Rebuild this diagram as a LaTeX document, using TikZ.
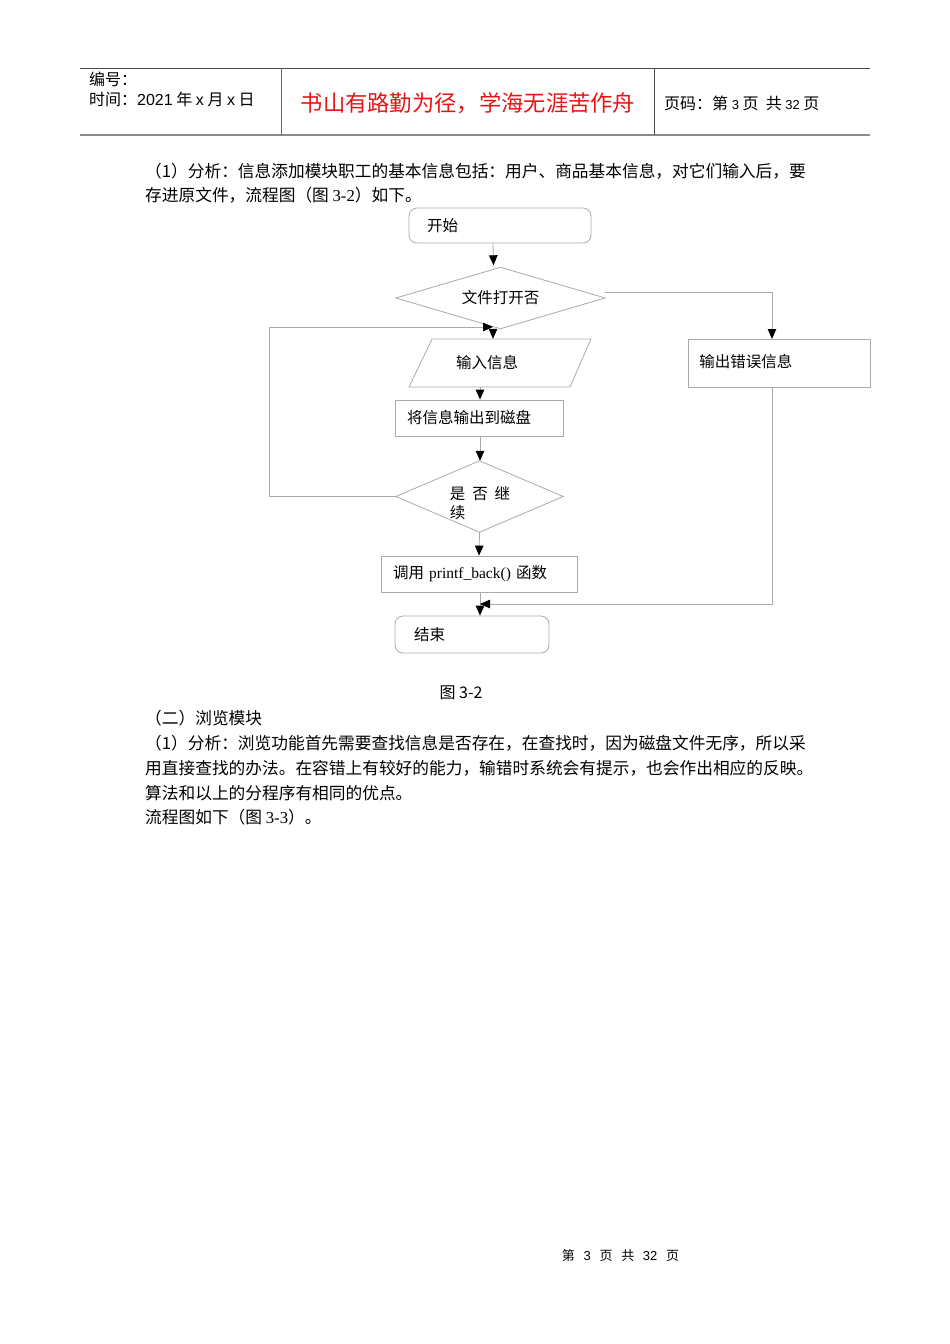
\documentclass[tikz,border=0pt]{standalone}
\usepackage{fontspec}
\setmainfont{Liberation Serif}
\newfontfamily\cjk{Noto Sans CJK SC}
\newfontfamily\hsans{Liberation Sans}
\usetikzlibrary{arrows.meta}
\definecolor{linegray}{RGB}{170,170,170}
\definecolor{titlered}{RGB}{230,20,20}
\begin{document}
\begin{tikzpicture}[x=1pt,y=-1pt,
  txt/.style={anchor=west,inner sep=0pt,font=\fontsize{16.7}{20}\selectfont\cjk},
  hdr/.style={anchor=west,inner sep=0pt,font=\fontsize{16}{18}\selectfont\cjk},
  box/.style={draw=linegray,line width=0.8pt,font=\fontsize{15.5}{19}\selectfont\cjk,inner sep=0pt},
  plain/.style={inner sep=0pt,font=\fontsize{15.5}{19}\selectfont\cjk},
  arr/.style={draw=linegray,line width=0.8pt,-{Triangle[black,length=10pt,width=8.5pt]}},
  conn/.style={draw=linegray,line width=0.8pt}]
\useasboundingbox[fill=white] (0,0) rectangle (950,1344);
% header
\draw[draw=black!70,line width=1pt] (80,68) -- (870,68);
\draw[draw=black!45,line width=2pt] (80,135) -- (870,135);
\draw[draw=black!60,line width=1pt] (281,68) -- (281,135);
\draw[draw=black!70,line width=1pt] (654,68) -- (654,135);
\node[hdr] (h1) at (89,79) {编号：};
\node[hdr] (h2) at (89,99) {时间：{\hsans 2021} 年 {\hsans x} 月 {\hsans x} 日};
\node[anchor=center,inner sep=0pt,text=titlered,font=\fontsize{22.3}{24}\selectfont\cjk] (title) at (468,103) {书山有路勤为径，学海无涯苦作舟};
\node[hdr] (h3) at (664,103) {页码：第 {\hsans\fontsize{13}{14}\selectfont 3} 页\ \ 共 {\hsans\fontsize{13}{14}\selectfont 32} 页};
% body text
\node[txt] (p1) at (145,171) {（1）分析：信息添加模块职工的基本信息包括：用户、商品基本信息，对它们输入后，要};
\node[txt] (p2) at (145,195) {存进原文件，流程图（图 {\rmfamily 3-2}）如下。};
% flowchart
\node[box,rounded corners=8pt,minimum width=182pt,minimum height=35pt,text width=146pt,align=left] (start) at (500,225.5) {开始};
\node[plain,minimum width=209pt,minimum height=61pt] (open) at (500.5,298) {文件打开否};
\draw[conn] (open.north) -- (open.east) -- (open.south) -- (open.west) -- cycle;
\node[plain,minimum width=160pt,minimum height=48pt] (inp) at (487,363) {输入信息};
\draw[conn] (432,339) -- (591,339) -- (570,387) -- (409,387) -- cycle;
\node[box,minimum width=168pt,minimum height=36pt,text width=144pt,align=left] (save) at (479,418) {将信息输出到磁盘};
\node[plain,minimum width=167pt,minimum height=71pt] (cont) at (479.5,496.5) {};
\draw[conn] (cont.north) -- (cont.east) -- (cont.south) -- (cont.west) -- cycle;
\node[plain,align=left] (conttxt) at (480,503) {是\ \ 否\ \ 继\\续\phantom{\ \ 否\ \ 继}};
\node[box,minimum width=196pt,minimum height=36pt,text width=172pt,align=left] (call) at (479,574) {调用 {\rmfamily printf\_back()} 函数};
\node[box,rounded corners=8pt,minimum width=154pt,minimum height=37pt,text width=116pt,align=left] (end) at (472,634.5) {结束};
\node[box,minimum width=182pt,minimum height=48pt,text width=160pt,align=left,anchor=north west] (err) at (688,339) {\raisebox{0pt}[8pt][0pt]{输出错误信息}};
% connectors
\coordinate (loopc) at (269,327);
\coordinate (merge) at (493,327);
\coordinate (join) at (480,604);
\coordinate (rt) at (772,292);
\draw[arr] ([xshift=-7pt]start.south) -- ([xshift=-7pt,yshift=2pt]open.north);
\draw[arr] ([xshift=-7.5pt,yshift=-2pt]open.south) -- ([xshift=6pt]inp.north);
\draw[arr] (cont.west) -- (cont.west -| loopc) -- (loopc) -- (merge);
\draw[arr] ([xshift=-7pt]inp.south) -- ([xshift=1pt]save.north);
\draw[arr] ([xshift=1pt]save.south) -- ([xshift=0.5pt]cont.north);
\draw[arr] (cont.south) -- (call.north);
\draw[arr] ([xshift=1pt]call.south) -- ([xshift=8pt]end.north);
\draw[arr] ([yshift=6pt]open.east) -- (rt) -- (rt |- err.north);
\draw[arr] (rt |- err.south) |- (join);
% caption and text
\node[anchor=center,inner sep=0pt,font=\fontsize{16}{20}\selectfont\cjk] (cap) at (461,693) {图 3-2};
\node[txt] (p3) at (145,718) {（二）浏览模块};
\node[txt] (p4) at (145,743) {（1）分析：浏览功能首先需要查找信息是否存在，在查找时，因为磁盘文件无序，所以采};
\node[txt] (p5) at (145,768) {用直接查找的办法。在容错上有较好的能力，输错时系统会有提示，也会作出相应的反映。};
\node[txt] (p6) at (145,793) {算法和以上的分程序有相同的优点。};
\node[txt] (p7) at (145,817) {流程图如下（图 {\rmfamily 3-3}）。};
% footer
\node[anchor=center,inner sep=0pt,font=\fontsize{13}{16}\selectfont\cjk] (foot) at (620.5,1256) {第\ \ \ {\hsans 3}\ \ \ 页\ \ \ 共\ \ \ {\hsans 32}\ \ \ 页};
\end{tikzpicture}
\end{document}
